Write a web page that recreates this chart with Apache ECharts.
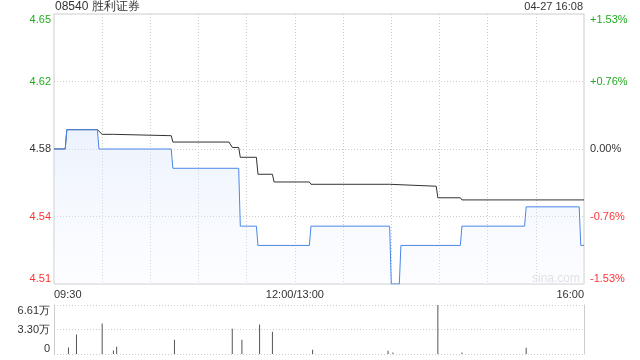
<!DOCTYPE html>
<html>
<head>
<meta charset="utf-8">
<script src="https://cdn.jsdelivr.net/npm/echarts@6/dist/echarts.min.js"></script>
<style>html,body{margin:0;padding:0;background:#fff;}#c{width:640px;height:360px;}</style>
</head>
<body>
<div id="c"></div>
<script>
// ---- data ----
const titleText = '08540 胜利证券';
const timeText = '04-27 16:08';
const xTickMinutes = [0, 150, 330];
const xTickLabels = ['09:30', '12:00/13:00', '16:00'];
const priceTickLabels = ['4.51', '4.54', '4.58', '4.62', '4.65'];
const pctTickLabels = ['-1.53%', '-0.76%', '0.00%', '+0.76%', '+1.53%'];
const volTickLabels = ['0', '3.30万', '6.61万'];

const priceMinutes = [0,7,8,27,28,73,74,115,116,126,127,159,160,209,210,215,216,253,254,293,294,327,328,330];
const priceValues  = [4.58,4.58,4.59,4.59,4.58,4.58,4.57,4.57,4.54,4.54,4.53,4.53,4.54,4.54,4.51,4.51,4.53,4.53,4.54,4.54,4.55,4.55,4.53,4.53];

const avgMinutes = [0,7,8,27,30,37,38,73,74,109,111,115,116,126,127,136,137,159,160,209,210,238,239,253,254,330];
const avgValues  = [4.58,4.58,4.59,4.59,4.5876,4.5876,4.5869,4.5869,4.5836,4.5836,4.5808,4.5808,4.5757,4.5757,4.5669,4.5669,4.5629,4.5629,4.5617,4.5617,4.5607,4.5607,4.5547,4.5547,4.5536,4.5536];

const volMinutes = [9,14,30,37,39,75,111,117,128,136,161,208,211,239,254,294];
const volValues  = [8800,26300,41000,4800,9800,19200,33900,19200,39700,29900,5800,4400,2100,66100,2100,8400];

const priceMin = 4.51, priceMax = 4.65;
const pctMin = -1.53, pctMax = 1.53;
const volMax = 66100;

// ---- chart ----
const font = 'Arial, "Liberation Sans", sans-serif';
const labelColors = ['#ff3333', '#ff3333', '#333333', '#22aa22', '#22aa22'];
const chart = echarts.init(document.getElementById('c'), null, {renderer: 'canvas'});
const zip = (a, b) => a.map((v, i) => [v, b[i]]);
const dotted = {color: '#cccccc', type: [1, 2], width: 1};

chart.setOption({
  animation: false,
  backgroundColor: '#fff',
  textStyle: {fontFamily: font},
  graphic: [
    {type: 'text', left: 55, top: 1, style: {text: titleText, font: '12px ' + font, fill: '#333'}},
    {type: 'text', right: 57, top: 1, style: {text: timeText, font: '11px ' + font, fill: '#333'}},
    {type: 'text', left: 532, top: 273, style: {text: 'sina.com', font: '12px ' + font, fill: '#dcdcdc'}}
  ],
  grid: [
    {left: 54, top: 14, width: 530, height: 270, show: true, borderColor: '#cccccc', borderWidth: 1},
    {left: 54, top: 305, width: 530, height: 49, show: false}
  ],
  xAxis: [
    {
      type: 'value', gridIndex: 0, min: 0, max: 330, interval: 30,
      axisLine: {show: false}, axisTick: {show: false},
      splitLine: {show: true, showMinLine: false, showMaxLine: false, lineStyle: dotted},
      axisLabel: {
        show: true, margin: 5, fontSize: 11, color: '#333', fontFamily: font,
        alignMinLabel: 'left', alignMaxLabel: 'right',
        formatter: v => { const i = xTickMinutes.indexOf(v); return i >= 0 ? xTickLabels[i] : ''; }
      }
    },
    {
      type: 'value', gridIndex: 1, min: 0, max: 330, interval: 30,
      axisLine: {show: false}, axisTick: {show: false}, axisLabel: {show: false},
      splitLine: {show: false}
    }
  ],
  yAxis: [
    {
      type: 'value', gridIndex: 0, min: priceMin, max: priceMax, interval: (priceMax - priceMin) / 4,
      axisLine: {show: false}, axisTick: {show: false},
      splitLine: {show: true, showMinLine: false, showMaxLine: false, lineStyle: dotted},
      axisLabel: {
        margin: 3, fontSize: 11, fontFamily: font,
        verticalAlignMinLabel: 'bottom', verticalAlignMaxLabel: 'top',
        formatter: (v, i) => '{c' + i + '|' + priceTickLabels[i] + '}',
        rich: {c0: {color: labelColors[0]}, c1: {color: labelColors[1]}, c2: {color: labelColors[2]}, c3: {color: labelColors[3]}, c4: {color: labelColors[4]}}
      }
    },
    {
      type: 'value', gridIndex: 0, position: 'right', min: pctMin, max: pctMax, interval: (pctMax - pctMin) / 4,
      axisLine: {show: false}, axisTick: {show: false}, splitLine: {show: false},
      axisLabel: {
        margin: 6, fontSize: 11, fontFamily: font,
        verticalAlignMinLabel: 'bottom', verticalAlignMaxLabel: 'top',
        formatter: (v, i) => '{c' + i + '|' + pctTickLabels[i] + '}',
        rich: {c0: {color: labelColors[0]}, c1: {color: labelColors[1]}, c2: {color: labelColors[2]}, c3: {color: labelColors[3]}, c4: {color: labelColors[4]}}
      }
    },
    {
      type: 'value', gridIndex: 1, min: 0, max: volMax, interval: volMax / 2,
      axisLine: {show: true, lineStyle: {color: '#cccccc'}}, axisTick: {show: false},
      splitLine: {show: true, lineStyle: dotted},
      axisLabel: {
        margin: 4, fontSize: 11, color: '#333', fontFamily: font,
        verticalAlignMinLabel: 'bottom', verticalAlignMaxLabel: 'top',
        formatter: (v, i) => volTickLabels[i]
      }
    },
    {
      type: 'value', gridIndex: 1, position: 'right', min: 0, max: volMax, interval: volMax / 2,
      axisLine: {show: true, lineStyle: {color: '#cccccc'}}, axisTick: {show: false},
      splitLine: {show: false}, axisLabel: {show: false}
    }
  ],
  series: [
    {
      type: 'line', xAxisIndex: 0, yAxisIndex: 0, data: zip(avgMinutes, avgValues),
      symbol: 'none', lineStyle: {color: '#333333', width: 1}, z: 2
    },
    {
      type: 'line', xAxisIndex: 0, yAxisIndex: 0, data: zip(priceMinutes, priceValues),
      symbol: 'none', lineStyle: {color: '#4a86e8', width: 1}, z: 3,
      areaStyle: {
        origin: 'start',
        color: new echarts.graphic.LinearGradient(0, 0, 0, 1, [
          {offset: 0, color: 'rgba(210,225,250,0.6)'},
          {offset: 1, color: 'rgba(240,245,255,0.3)'}
        ])
      }
    },
    {
      type: 'bar', xAxisIndex: 1, yAxisIndex: 2, data: zip(volMinutes, volValues),
      barWidth: 1, itemStyle: {color: '#555555'}
    }
  ]
});
</script>
</body>
</html>
